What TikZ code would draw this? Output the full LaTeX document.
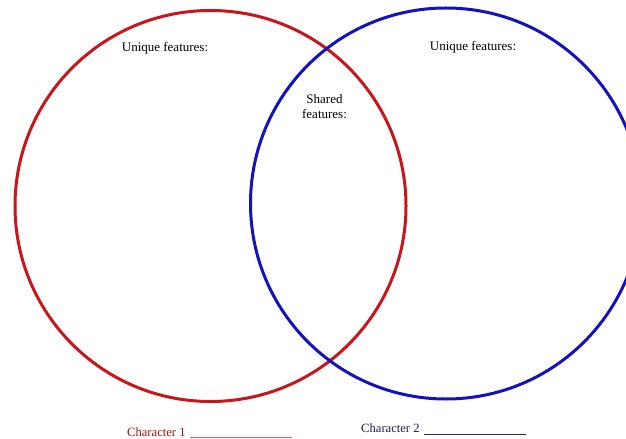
\documentclass[tikz,border=0pt]{standalone}
\usepackage{fontspec}
\setmainfont{Liberation Serif}
\definecolor{vred}{RGB}{200,22,28}
\definecolor{vblue}{RGB}{18,18,190}
\definecolor{c1text}{RGB}{160,20,20}
\definecolor{c1line}{RGB}{235,90,80}
\definecolor{c2text}{RGB}{30,30,90}
\definecolor{c2line}{RGB}{40,40,110}
\begin{document}
\begin{tikzpicture}[x=1bp,y=-1bp,
  ring/.style={circle,draw,line width=3bp,inner sep=0pt,minimum size=391bp},
  lbl/.style={font=\fontsize{13bp}{15.5bp}\selectfont,inner sep=0pt,align=center},
  sml/.style={font=\fontsize{12.6bp}{15bp}\selectfont,inner sep=0pt}]
\useasboundingbox[fill=white] (0,0) rectangle (626,439);
\begin{scope}
\clip (0,0) rectangle (626,439);
\node[ring,draw=vred] (red) at (210.5,206) {};
\node[ring,draw=vblue] (blue) at (446,203.5) {};
\end{scope}
\node[lbl] (u1) at (165,48) {Unique features:};
\node[lbl] (u2) at (473,47) {Unique features:};
\node[lbl] (sh) at (324.5,106.5) {Shared\\features:};
\node[sml,text=c1text,anchor=base west] (c1) at (127,436) {Character 1};
\coordinate (c1e) at (292,437.5);
\draw[c1line,line width=0.8bp] (190,437.5) -- (c1e);
\node[sml,text=c2text,anchor=base west] (c2) at (361,432) {Character 2};
\coordinate (c2e) at (526,434);
\draw[c2line,line width=0.8bp] (424,434) -- (c2e);
\end{tikzpicture}
\end{document}
